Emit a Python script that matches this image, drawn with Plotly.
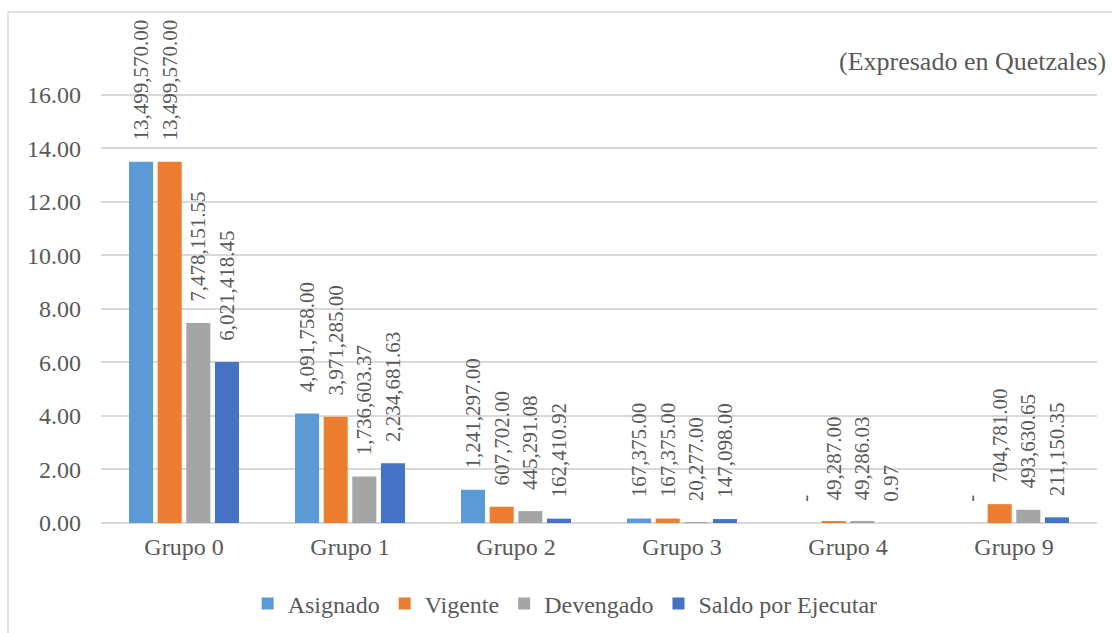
import plotly.graph_objects as go

grupos = ["Grupo 0", "Grupo 1", "Grupo 2", "Grupo 3", "Grupo 4", "Grupo 9"]
asignado = [13499570.00, 4091758.00, 1241297.00, 167375.00, 0.00, 0.00]
vigente = [13499570.00, 3971285.00, 607702.00, 167375.00, 49287.00, 704781.00]
devengado = [7478151.55, 1736603.37, 445291.08, 20277.00, 49286.03, 493630.65]
saldo = [6021418.45, 2234681.63, 162410.92, 147098.00, 0.97, 211150.35]
y_ticks = [0, 2, 4, 6, 8, 10, 12, 14, 16]

series = [
    ("Asignado", asignado, "#5B9BD5"),
    ("Vigente", vigente, "#ED7D31"),
    ("Devengado", devengado, "#A5A5A5"),
    ("Saldo por Ejecutar", saldo, "#4472C4"),
]

FONT = "Liberation Serif"
GREY = "#595959"
LABEL_GAP = 0.68  # gap (in millions) between bar top and its label


def fmt(v):
    return "-" if v == 0 else f"{v:,.2f}"


fig = go.Figure()
for i, (name, vals, color) in enumerate(series):
    mill = [v / 1e6 for v in vals]
    fig.add_trace(go.Bar(x=grupos, y=mill, name=name, marker_color=color,
                         offsetgroup=str(i), marker_line_width=0))
    # transparent spacer bar that carries the rotated value label
    fig.add_trace(go.Bar(x=grupos, y=[LABEL_GAP] * len(mill), base=mill,
                         offsetgroup=str(i), showlegend=False,
                         marker_color="rgba(0,0,0,0)", marker_line_width=0,
                         text=[fmt(v) for v in vals], textposition="outside",
                         textangle=-90, constraintext="none", cliponaxis=False,
                         textfont=dict(family=FONT, size=21, color=GREY),
                         hoverinfo="skip"))

fig.update_layout(
    barmode="group", bargap=0.31, bargroupgap=0.16,
    width=1112, height=633,
    margin=dict(l=101, r=15, t=70, b=110),
    paper_bgcolor="white", plot_bgcolor="white",
    font=dict(family=FONT, color=GREY, size=24),
    legend=dict(orientation="h", x=0.466, xanchor="center",
                yref="container", y=0.046, yanchor="middle",
                font=dict(family=FONT, size=24, color=GREY),
                itemwidth=30, traceorder="normal"),
    showlegend=True,
)
fig.update_yaxes(range=[0, 16.93], tickvals=y_ticks, tickformat=".2f",
                 showgrid=True, gridcolor="#D9D9D9", gridwidth=1.5,
                 zeroline=True, zerolinecolor="#D9D9D9", zerolinewidth=1.5,
                 tickfont=dict(family=FONT, size=24, color=GREY), ticks="",
                 ticklabelstandoff=19, automargin=False)
fig.update_xaxes(showgrid=False, showline=False, ticks="",
                 tickfont=dict(family=FONT, size=24, color=GREY),
                 ticklabelstandoff=7, automargin=False)

fig.add_annotation(text="(Expresado en Quetzales)", xref="paper", yref="paper",
                   x=1.011, y=1.018, xanchor="right", yanchor="middle",
                   showarrow=False, font=dict(family=FONT, size=26, color=GREY))

fig.add_shape(type="rect", xref="paper", yref="paper",
              x0=-0.0934, x1=1.05, y0=-0.3, y1=1.128,
              line=dict(color="#D9D9D9", width=1.5), layer="below")

fig.write_html("out.html", config={"displayModeBar": False},
               post_script="document.body.style.margin='0px';")
